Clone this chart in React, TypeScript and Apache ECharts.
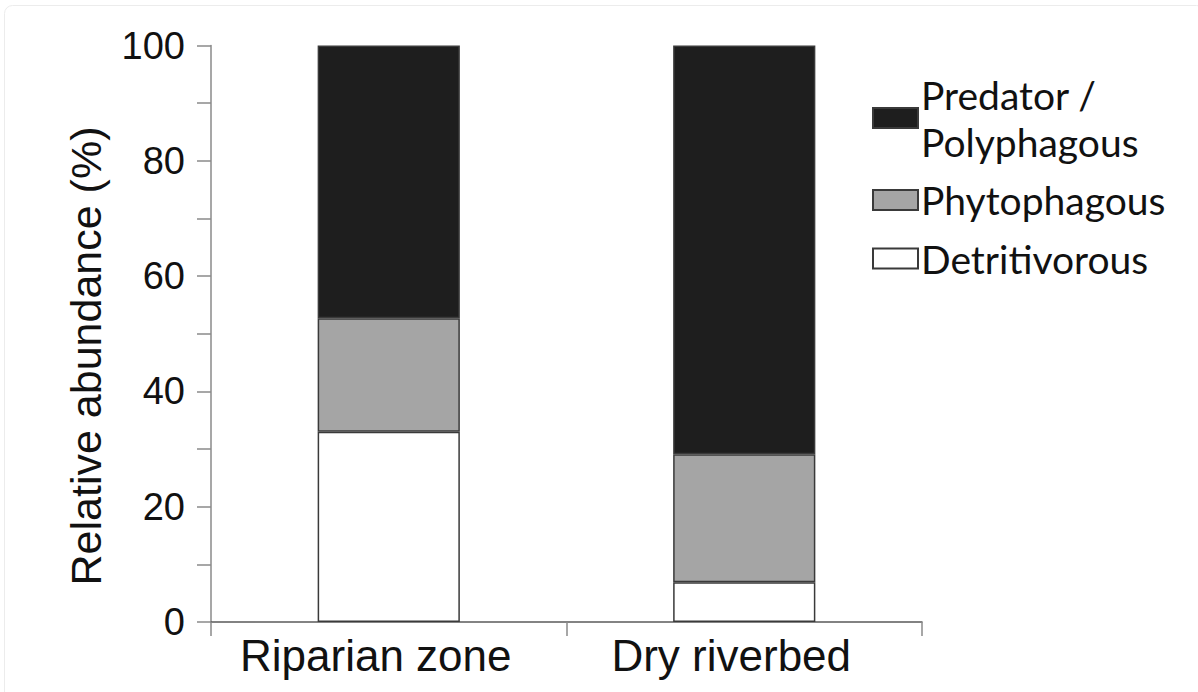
import React, { useEffect, useRef } from "react";
import * as echarts from "echarts";

const categories = ["Riparian zone", "Dry riverbed"];
const detritivorous = [33.0, 6.9];
const phytophagous = [19.7, 22.2];
const predator = [47.3, 70.9];
const yTicks = { min: 0, max: 100, interval: 20 };
const seriesNames = ["Detritivorous", "Phytophagous", "Predator / Polyphagous"];
const legendOrder = ["Predator / Polyphagous", "Phytophagous", "Detritivorous"];
const yTitle = "Relative abundance (%)";

export default function App() {
  const ref = useRef<HTMLDivElement>(null);
  useEffect(() => {
    document.body.style.margin = "0";
    const chart = echarts.init(ref.current!, null, { renderer: "svg" });
    const border = { borderColor: "#3a3a3a", borderWidth: 1.5 };
    const values = [detritivorous, phytophagous, predator];
    const colors = ["#ffffff", "#a5a5a5", "#1e1e1e"];
    chart.setOption({
      animation: false,
      backgroundColor: "#ffffff",
      graphic: [
        {
          type: "rect",
          shape: { x: 4.5, y: 5.5, width: 1200, height: 700, r: 8 },
          style: { fill: "none", stroke: "#ececec", lineWidth: 1 },
          silent: true,
        },
        {
          type: "text",
          x: 86,
          y: 356,
          rotation: Math.PI / 2,
          style: {
            text: yTitle,
            fontFamily: "Liberation Sans, Arial",
            fontSize: 43,
            fill: "#111",
            textAlign: "center",
            textVerticalAlign: "middle",
          },
          silent: true,
        },
      ],
      grid: { left: 211, right: 276, top: 45.5, bottom: 70 },
      legend: {
        orient: "vertical",
        left: 867,
        top: 66,
        itemWidth: 45,
        itemHeight: 20,
        itemGap: 11.5,
        data: legendOrder,
        icon: "rect",
        formatter: (n: string) => (n === "Predator / Polyphagous" ? "Predator /\nPolyphagous" : n),
        textStyle: {
          fontFamily: "Lato",
          fontSize: 39,
          lineHeight: 47,
          color: "#111",
          padding: [0, 0, 0, -2],
        },
      },
      xAxis: {
        type: "category",
        data: categories,
        axisLine: { lineStyle: { color: "#5a5a5a", width: 1.5 } },
        axisTick: { show: true, length: 14, alignWithLabel: false, lineStyle: { color: "#8a8a8a", width: 1.5 } },
        axisLabel: {
          fontFamily: "Liberation Sans, Arial",
          fontSize: 44,
          color: "#111",
          margin: 11,
          padding: [0, 26, 0, 0],
        },
      },
      yAxis: {
        type: "value",
        min: yTicks.min,
        max: yTicks.max,
        interval: yTicks.interval,
        axisLine: { show: true, lineStyle: { color: "#8a8a8a", width: 1.5 } },
        axisTick: { show: true, length: 14, lineStyle: { color: "#8a8a8a", width: 1.5 } },
        minorTick: { show: true, splitNumber: 2, length: 14, lineStyle: { color: "#8a8a8a", width: 1.5 } },
        splitLine: { show: false },
        axisLabel: {
          fontFamily: "Liberation Sans, Arial",
          fontSize: 38,
          color: "#111",
          margin: 26,
        },
      },
      series: seriesNames.map((name, i) => ({
        name,
        type: "bar",
        stack: "total",
        barWidth: "40%",
        data: values[i],
        itemStyle: { color: colors[i], ...border },
      })),
    });
    return () => chart.dispose();
  }, []);
  return <div ref={ref} style={{ position: "fixed", left: 0, top: 0, width: 1198, height: 692 }} />;
}
